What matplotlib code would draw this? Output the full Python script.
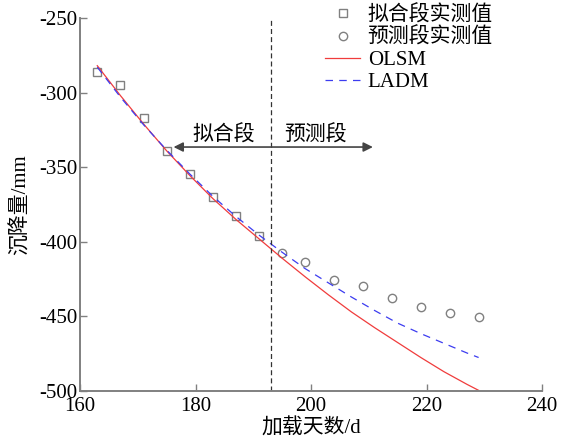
"""沉降预测: 拟合段/预测段实测值 与 OLSM、LADM 模型曲线对比"""
import matplotlib
matplotlib.use("Agg")
import matplotlib.pyplot as plt

plt.rcParams["font.family"] = ["Liberation Serif", "Noto Sans CJK SC"]
plt.rcParams["axes.unicode_minus"] = False

# 实测值 (拟合段 / 预测段)
fit_days = [163, 167, 171, 175, 179, 183, 187, 191]
fit_vals = [-286, -295, -317, -339, -354.6, -369.8, -382.7, -395.9]
pred_days = [195, 199, 204, 209, 214, 219, 224, 229]
pred_vals = [-407.7, -413.7, -425.8, -429.6, -437.5, -443.5, -447.5, -450.6]

# 模型曲线 (读图取点)
curve_days = [163, 167, 171, 175, 179, 183, 187, 191, 195, 199, 203, 207,
              211, 215, 219, 223, 227, 229]
olsm_vals = [-282, -302, -321, -339, -355.5, -371, -385, -398, -411, -423.5,
             -435.5, -447, -457.5, -467.5, -477.5, -487, -495.5, -499.5]
ladm_vals = [-283, -303, -321.5, -338.5, -354.5, -369.5, -383, -395.5, -407,
             -418, -427.5, -437, -446, -454.5, -461.5, -468, -474.5, -477.5]

split_day = 193
xticks = [160, 180, 200, 220, 240]
yticks = [-500, -450, -400, -350, -300, -250]

FS = 15
GRAY = "#808080"

fig = plt.figure(figsize=(5.63, 4.48), dpi=100)
ax = fig.add_axes([0.142, 0.127, 0.821, 0.833])

ax.plot(fit_days, fit_vals, ls="none", marker="s", ms=5.5, mfc="none",
        mec=GRAY, mew=1.0, label="拟合段实测值")
ax.plot(pred_days, pred_vals, ls="none", marker="o", ms=6, mfc="none",
        mec=GRAY, mew=1.0, label="预测段实测值")
ax.plot(curve_days, olsm_vals, color="#f03c3c", lw=0.9, label="OLSM")
ax.plot(curve_days, ladm_vals, color="#3c3cf0", lw=0.9, ls=(0, (6, 5)),
        label="LADM")

ax.axvline(split_day, color="#333333", lw=0.9, ls=(0, (4, 2.5)))

# 拟合段 <-> 预测段 箭头
ax.annotate("", xy=(176.2, -336.5), xytext=(210.7, -336.5),
            arrowprops=dict(arrowstyle="<|-|>", color="#444444", lw=1.2,
                            mutation_scale=14, shrinkA=0, shrinkB=0))
ax.text(184.8, -329, "拟合段", ha="center", va="center", fontsize=FS)
ax.text(200.8, -329, "预测段", ha="center", va="center", fontsize=FS)

ax.set_xlim(160, 240)
ax.set_ylim(-500, -250)
ax.set_xticks(xticks)
ax.set_yticks(yticks)
ax.tick_params(direction="in", length=5, width=1, color=GRAY,
               labelsize=FS, pad=2)
ax.tick_params(axis="x", pad=4)
for s in ("top", "right"):
    ax.spines[s].set_visible(False)
for s in ("left", "bottom"):
    ax.spines[s].set_color(GRAY)
    ax.spines[s].set_linewidth(1.4)

ax.set_xlabel("加载天数/d", fontsize=FS, labelpad=2)
ax.set_ylabel("沉降量/mm", fontsize=FS, labelpad=6)

ax.legend(loc="upper left", bbox_to_anchor=(0.53, 1.035), frameon=False,
          fontsize=FS, handlelength=1.7, handletextpad=0.35,
          labelspacing=0.12, borderpad=0, borderaxespad=0)

fig.savefig("out.png", dpi=100)
